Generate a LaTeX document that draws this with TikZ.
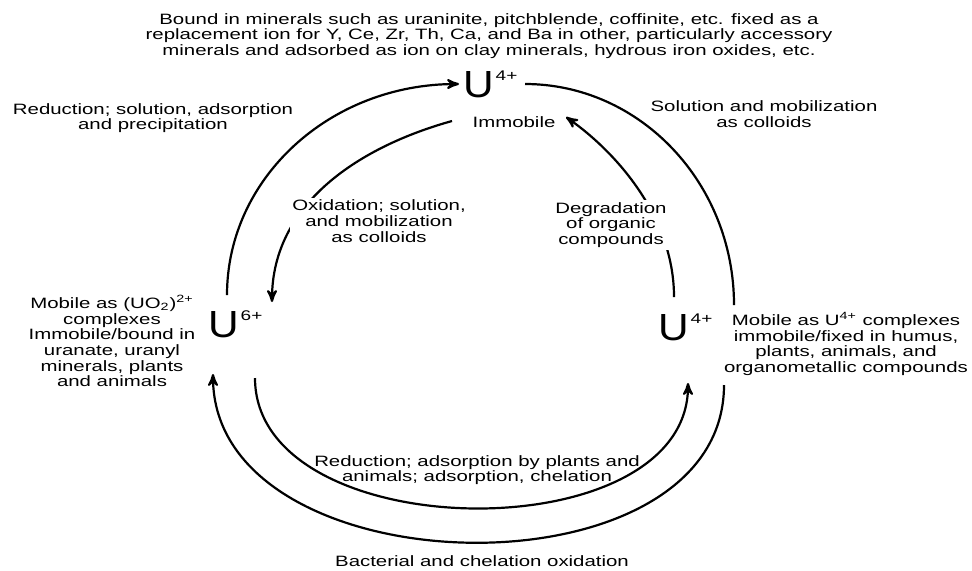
\documentclass[tikz,border=0pt]{standalone}
\usepackage{fontspec}
\setmainfont{Liberation Sans}[FakeStretch=1.36]
\newfontfamily\bigU{Liberation Sans}[FakeStretch=1.12]
\usetikzlibrary{arrows}
\newcommand\Ion[1]{{\bigU\fontsize{18.9}{19}\selectfont U}\kern1pt\raisebox{8.5pt}{\fontsize{7}{7}\selectfont #1}}

\begin{document}
\begin{tikzpicture}[x=0.5pt,y=-0.5pt,>=stealth',line width=1.1pt]
    \tikzstyle{txt}=[align=center,inner sep=1pt,font=\fontsize{7.5}{7.85}\selectfont]
    \tikzstyle{gap}=[style=txt,fill=white]
    \tikzstyle{ion}=[anchor=base west,inner sep=0pt]

    \useasboundingbox[fill=white] (0,0) rectangle (972,570);

    \node[txt] (bound) at (489,36) {Bound in minerals such as uraninite, pitchblende, coffinite, etc. fixed as a\\replacement ion for Y, Ce, Zr, Th, Ca, and Ba in other, particularly accessory\\minerals and adsorbed as ion on clay minerals, hydrous iron oxides, etc.};
    \node[ion] (utop) at (462,97) {\Ion{4+}};
    \node[txt] (immob) at (514,122) {Immobile};
    \node[ion] (u6) at (207,337) {\Ion{6+}};
    \node[ion] (u4) at (657,340) {\Ion{4+}};
    \node[txt] (mob6) at (112,341) {Mobile as (UO\textsubscript{2})\textsuperscript{2+}\\complexes\\Immobile/bound in\\uranate, uranyl\\minerals, plants\\and animals};
    \node[txt] (mob4) at (846,344) {Mobile as U\textsuperscript{4+} complexes\\immobile/fixed in humus,\\plants, animals, and\\organometallic compounds};
    \node[txt] (redtop) at (153,118) {Reduction; solution, adsorption\\and precipitation};
    \node[txt] (soltop) at (764,114) {Solution and mobilization\\as colloids};
    \node[txt] (redbot) at (477,470) {Reduction; adsorption by plants and\\animals; adsorption, chelation};
    \node[txt] (bact) at (482,561) {Bacterial and chelation oxidation};

    % outer cycle
    \draw[->] ([shift={(20,-42)}]u6.base west) .. controls +(0,-117) and +(-129,0) .. ([shift={(-3,-13)}]utop.base west);
    \draw ([shift={(63,-13)}]utop.base west) .. controls +(115,0) and +(0,-122) .. ([shift={(77,-35)}]u4.base west);
    \draw[->] ([shift={(67,45)}]u4.base west) .. controls +(0,217) and +(0,217) .. ([shift={(6,37)}]u6.base west);
    % inner cycle
    \draw[->] ([shift={(-62,-1)}]immob.center) .. controls +(-90,25) and +(0,-100) .. ([shift={(65,-35)}]u6.base west);
    \draw[->] ([shift={(17,-43)}]u4.base west) .. controls +(0,-80) and +(50,35) .. ([shift={(52,-5)}]immob.center);
    \draw[->] ([shift={(48,41)}]u6.base west) .. controls +(0,170) and +(0,170) .. ([shift={(31,43)}]u4.base west);
    % labels sitting on the inner arcs
    \node[gap] (oxid) at (379,221) {Oxidation; solution,\\and mobilization\\as colloids};
    \node[gap] (degr) at (611,225) {Degradation\\of organic\\compounds};
\end{tikzpicture}
\end{document}
